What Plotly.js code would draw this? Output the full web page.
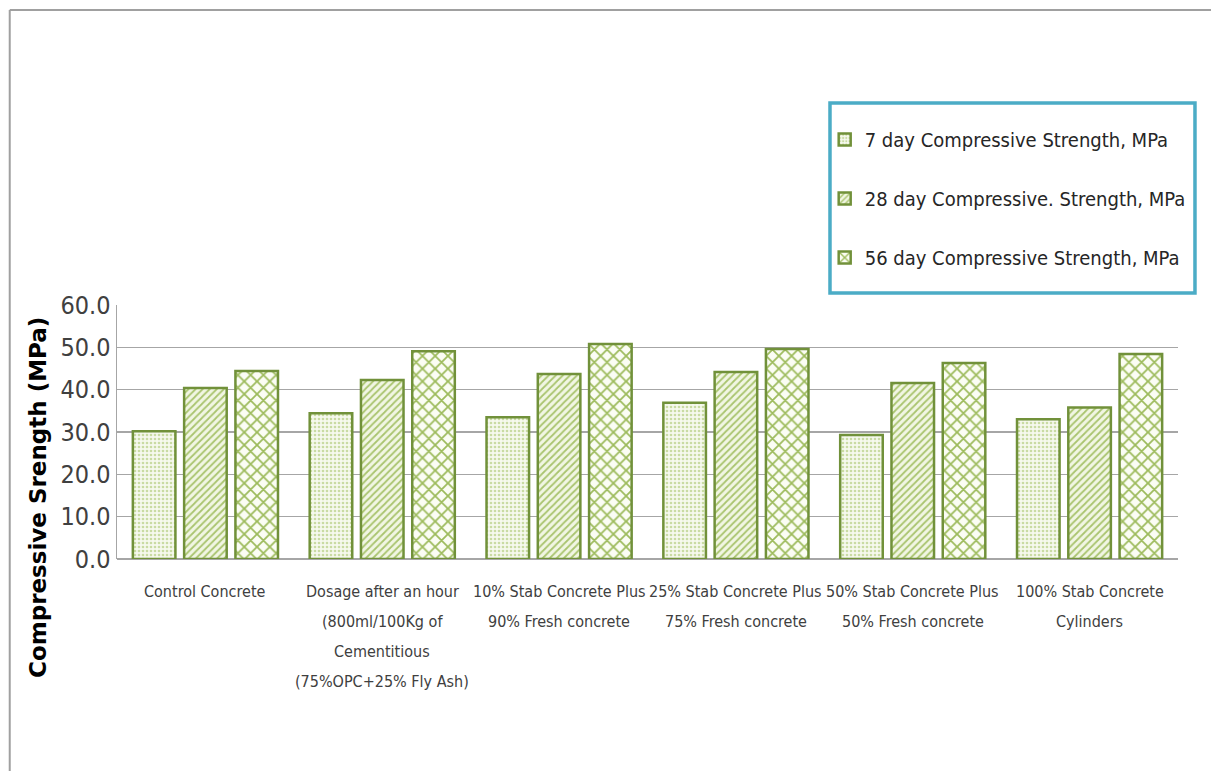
<!DOCTYPE html>
<html>
<head>
<meta charset="utf-8">
<script src="https://cdn.plot.ly/plotly-3.0.1.min.js"></script>
<style>html,body{margin:0;padding:0;background:#fff;}#chart{width:1211px;height:771px;}</style>
</head>
<body>
<div id="chart"></div>
<script>
var categories = [
  "Control Concrete",
  "Dosage after an hour (800ml/100Kg of Cementitious (75%OPC+25% Fly Ash)",
  "10% Stab Concrete Plus 90% Fresh concrete",
  "25% Stab Concrete Plus 75% Fresh concrete",
  "50% Stab Concrete Plus 50% Fresh concrete",
  "100% Stab Concrete Cylinders"
];
var categoryLines = [
  ["Control Concrete"],
  ["Dosage after an hour", "(800ml/100Kg of", "Cementitious", "(75%OPC+25% Fly Ash)"],
  ["10% Stab Concrete Plus", "90% Fresh concrete"],
  ["25% Stab Concrete Plus", "75% Fresh concrete"],
  ["50% Stab Concrete Plus", "50% Fresh concrete"],
  ["100% Stab Concrete", "Cylinders"]
];
var seriesNames = [
  "7 day Compressive Strength, MPa",
  "28 day Compressive. Strength, MPa",
  "56 day Compressive Strength, MPa"
];
var day7 = [30.2, 34.4, 33.5, 36.9, 29.3, 33.0];
var day28 = [40.4, 42.3, 43.7, 44.2, 41.6, 35.8];
var day56 = [44.4, 49.1, 50.8, 49.6, 46.3, 48.4];
var yTickVals = [0, 10, 20, 30, 40, 50, 60];
var yTitle = "Compressive Srength (MPa)";

var outline = '#71913a';
var font = "'DejaVu Sans Condensed', 'Liberation Sans Narrow', Lato, sans-serif";

function barTrace(name, vals, shape, size, sol, fg, bg, group) {
  return {
    type: 'bar', name: name, x: categories, y: vals, legendgroup: group,
    marker: {
      color: bg,
      line: {color: outline, width: 2.5},
      pattern: {shape: shape, size: size, solidity: sol, fgcolor: fg, bgcolor: bg, fillmode: 'replace'}
    },
    hoverinfo: 'y'
  };
}

var data = [
  barTrace(seriesNames[0], day7, '.', 4, 0.35, '#c9dba3', '#f6f9ee', 'a'),
  barTrace(seriesNames[1], day28, '/', 5, 0.35, '#a9c46e', '#f1f6e3', 'b'),
  barTrace(seriesNames[2], day56, 'x', 9, 0.35, '#9dbb5c', '#fbfdf4', 'c')
];

var annotations = [{
  text: '<b>' + yTitle + '</b>', textangle: -90,
  xref: 'paper', yref: 'paper', x: -0.0745, y: 0.244,
  xanchor: 'center', yanchor: 'middle', showarrow: false,
  font: {family: "'DejaVu Sans', sans-serif", size: 23, color: '#000000'}
}];
categoryLines.forEach(function (lines, ci) {
  lines.forEach(function (ln, li) {
    annotations.push({
      text: ln, x: categories[ci], xref: 'x', y: 0, yref: 'y',
      xanchor: 'center', yanchor: 'middle', yshift: -32 - 30 * li,
      showarrow: false,
      font: {family: font, size: 16, color: '#404040'}
    });
  });
});

var layout = {
  width: 1211, height: 771,
  margin: {l: 117, r: 33, t: 305, b: 212},
  paper_bgcolor: '#ffffff', plot_bgcolor: '#ffffff',
  barmode: 'group', bargap: 0.13, bargroupgap: 0.17,
  showlegend: true,
  legend: {
    x: 0.667, xanchor: 'left', y: 1.728, yanchor: 'top',
    borderwidth: 0, bgcolor: 'rgba(0,0,0,0)',
    font: {family: font, size: 20, color: '#262626'},
    tracegroupgap: 30, itemwidth: 30, traceorder: 'grouped'
  },
  xaxis: {
    type: 'category', showgrid: false, zeroline: false, showline: false,
    ticks: '', showticklabels: false, automargin: false
  },
  yaxis: {
    range: [0, 60], tickvals: yTickVals, tickformat: '.1f',
    showgrid: true, gridcolor: '#a6a6a6', gridwidth: 1.5,
    zeroline: true, zerolinecolor: '#a6a6a6', zerolinewidth: 1.5,
    showline: true, linecolor: '#a6a6a6', linewidth: 1.5,
    ticks: '', ticklabelstandoff: 0, automargin: false,
    tickfont: {family: font, size: 25, color: '#404040'}
  },
  annotations: annotations,
  shapes: [
    {type: 'line', xref: 'paper', yref: 'paper', x0: -0.1011, x1: 1.2, y0: 2.161, y1: 2.161, line: {color: '#a0a0a0', width: 2}},
    {type: 'line', xref: 'paper', yref: 'paper', x0: -0.1011, x1: -0.1011, y0: 2.161, y1: -1, line: {color: '#a0a0a0', width: 2}},
    {type: 'rect', xref: 'paper', yref: 'paper', x0: 0.672, x1: 1.016, y0: 1.0472, y1: 1.7953, line: {color: '#4bacc6', width: 3.5}, fillcolor: 'rgba(0,0,0,0)'}
  ]
};

Plotly.newPlot('chart', data, layout, {displayModeBar: false, staticPlot: true});
</script>
</body>
</html>
